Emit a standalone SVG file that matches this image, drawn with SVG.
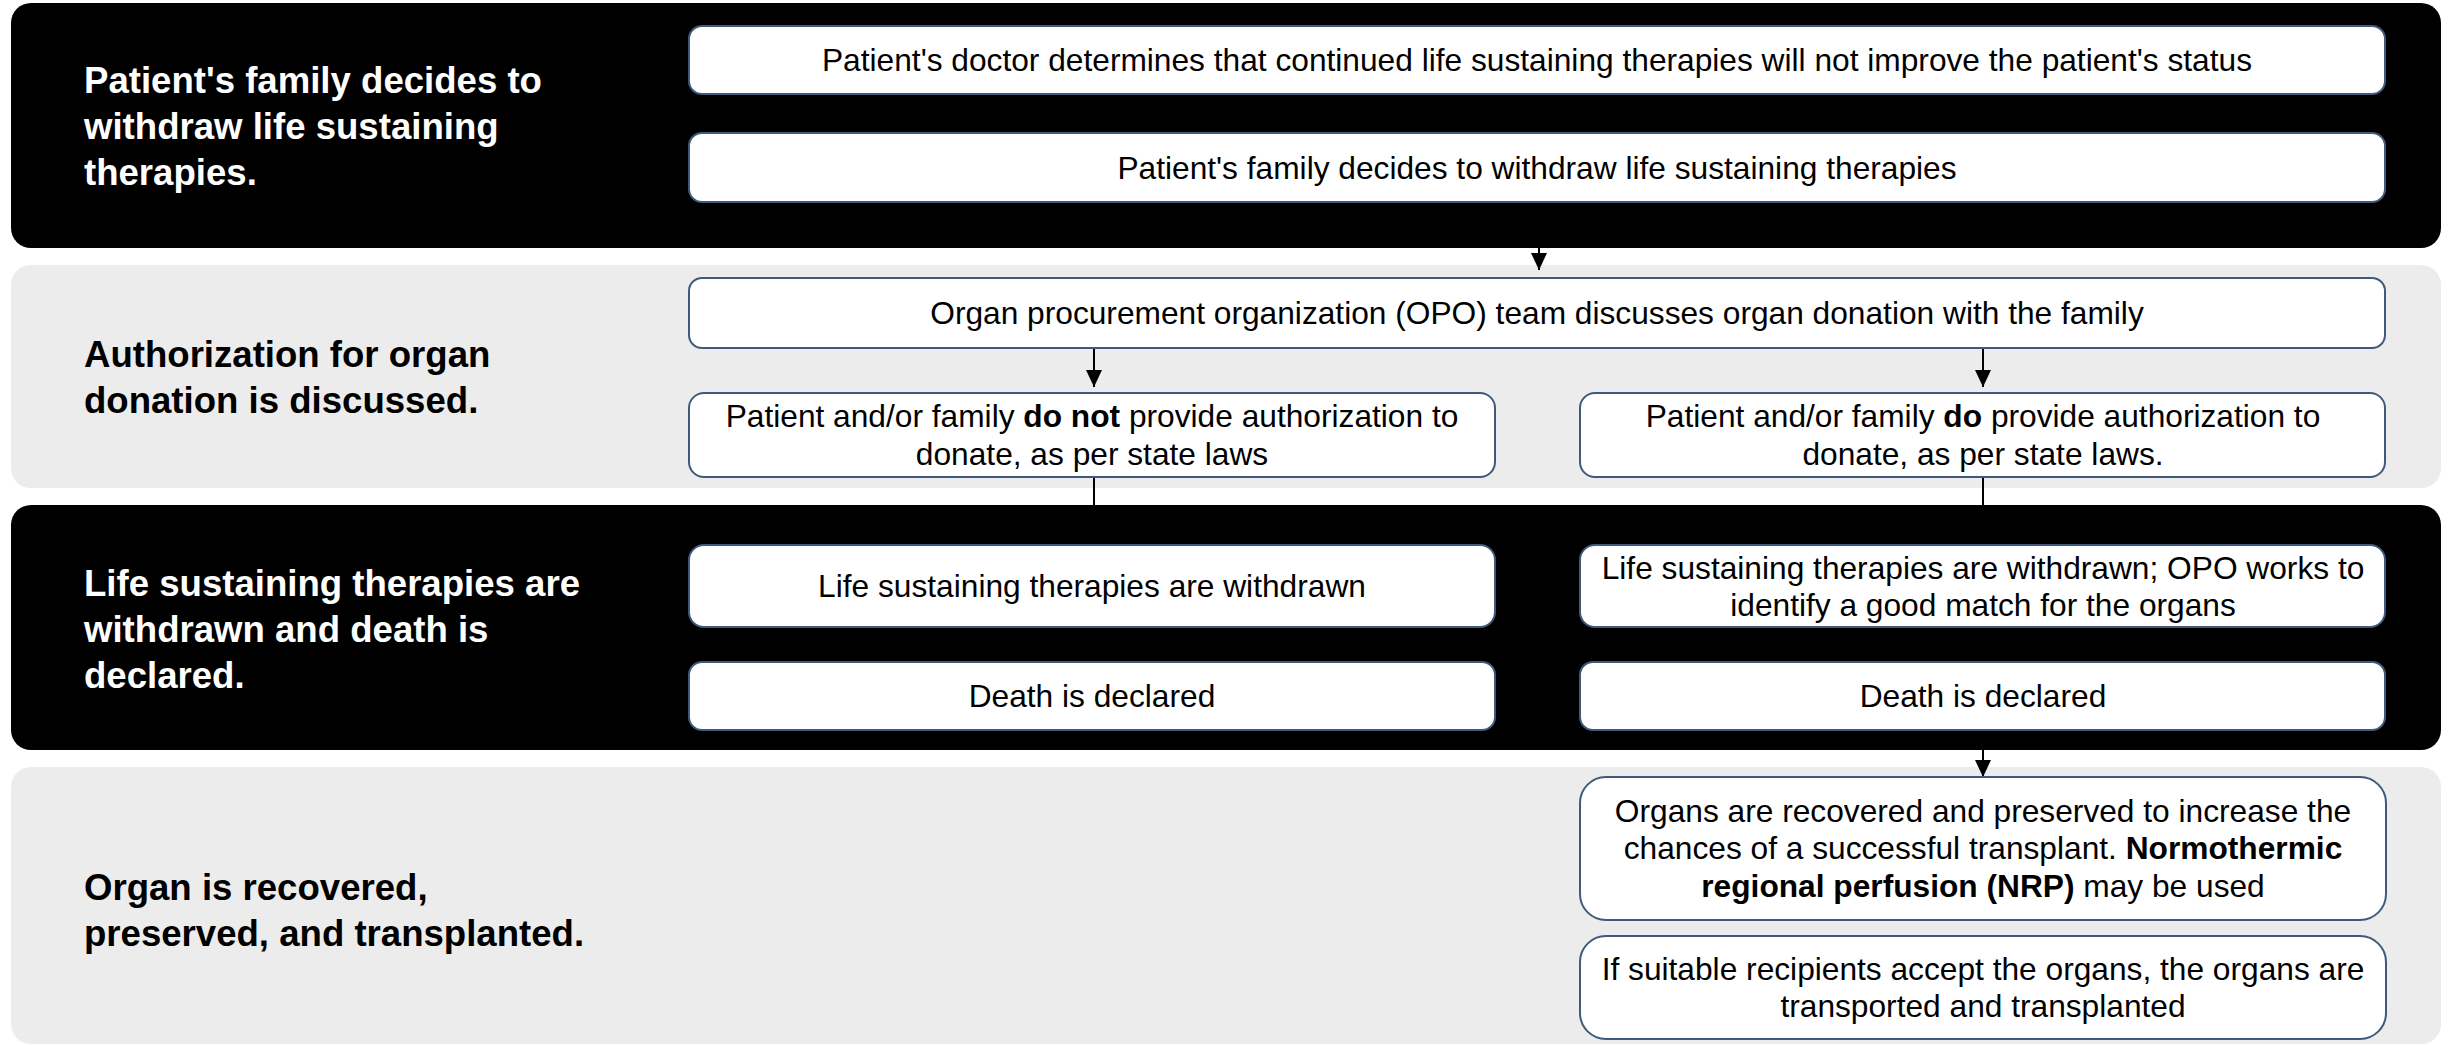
<svg xmlns="http://www.w3.org/2000/svg" width="2448" height="1045" viewBox="0 0 2448 1045">
<defs>
<marker id="arr" markerUnits="userSpaceOnUse" markerWidth="17" markerHeight="16" refX="17" refY="8" orient="auto" viewBox="0 0 17 16">
<path d="M0,0 L17,8 L0,16 Z" fill="#000"/>
</marker>
<style>
.bandD{fill:#000}
.bandL{fill:#ececec}
.lblW{font-family:"Liberation Sans",Arial,sans-serif;font-weight:bold;font-size:36.6px;fill:#fff}
.lblB{font-family:"Liberation Sans",Arial,sans-serif;font-weight:bold;font-size:36.6px;fill:#000}
.box{fill:#fff;stroke:#3f5a7d;stroke-width:2}
.t{font-family:"Liberation Sans",Arial,sans-serif;font-size:31.7px;fill:#000;text-anchor:middle}
.b{font-weight:bold}
.c{stroke:#000;stroke-width:2;fill:none}
</style>
</defs>
<rect width="2448" height="1045" fill="#fff"/>

<g id="band1">
<rect class="bandD" x="11" y="3" width="2430" height="245" rx="20"/>
<text class="lblW" x="84"><tspan x="84" y="93">Patient's family decides to</tspan><tspan x="84" y="139">withdraw life sustaining</tspan><tspan x="84" y="185">therapies.</tspan></text>
</g>
<g id="band2">
<rect class="bandL" x="11" y="265" width="2430" height="223" rx="20"/>
<text class="lblB" x="84"><tspan x="84" y="367">Authorization for organ</tspan><tspan x="84" y="413">donation is discussed.</tspan></text>
</g>
<g id="band3">
<rect class="bandD" x="11" y="505" width="2430" height="245" rx="20"/>
<text class="lblW" x="84"><tspan x="84" y="596">Life sustaining therapies are</tspan><tspan x="84" y="642">withdrawn and death is</tspan><tspan x="84" y="688">declared.</tspan></text>
</g>
<g id="band4">
<rect class="bandL" x="11" y="767" width="2430" height="277" rx="20"/>
<text class="lblB" x="84"><tspan x="84" y="900">Organ is recovered,</tspan><tspan x="84" y="946">preserved, and transplanted.</tspan></text>
</g>

<g id="connectors">
<line class="c" x1="1539" y1="94" x2="1539" y2="133"/>
<line class="c" x1="1539" y1="202" x2="1539" y2="270" marker-end="url(#arr)"/>
<line class="c" x1="1094" y1="348" x2="1094" y2="387" marker-end="url(#arr)"/>
<line class="c" x1="1983" y1="348" x2="1983" y2="387" marker-end="url(#arr)"/>
<line class="c" x1="1094" y1="477" x2="1094" y2="545"/>
<line class="c" x1="1983" y1="477" x2="1983" y2="545"/>
<line class="c" x1="1094" y1="627" x2="1094" y2="662"/>
<line class="c" x1="1983" y1="627" x2="1983" y2="662"/>
<line class="c" x1="1983" y1="730" x2="1983" y2="777" marker-end="url(#arr)"/>
</g>

<g id="n1">
<rect class="box" x="689" y="26" width="1696" height="68" rx="13"/>
<text class="t" x="1537" y="71">Patient's doctor determines that continued life sustaining therapies will not improve the patient's status</text>
</g>
<g id="n2">
<rect class="box" x="689" y="133" width="1696" height="69" rx="13"/>
<text class="t" x="1537" y="179">Patient's family decides to withdraw life sustaining therapies</text>
</g>
<g id="n3">
<rect class="box" x="689" y="278" width="1696" height="70" rx="13"/>
<text class="t" x="1537" y="324">Organ procurement organization (OPO) team discusses organ donation with the family</text>
</g>
<g id="n4">
<rect class="box" x="689" y="393" width="806" height="84" rx="15"/>
<text class="t"><tspan x="1092" y="427">Patient and/or family <tspan class="b">do not</tspan> provide authorization to</tspan><tspan x="1092" y="465">donate, as per state laws</tspan></text>
</g>
<g id="n5">
<rect class="box" x="1580" y="393" width="805" height="84" rx="15"/>
<text class="t"><tspan x="1983" y="427">Patient and/or family <tspan class="b">do</tspan> provide authorization to</tspan><tspan x="1983" y="465">donate, as per state laws.</tspan></text>
</g>
<g id="n6">
<rect class="box" x="689" y="545" width="806" height="82" rx="15"/>
<text class="t" x="1092" y="597">Life sustaining therapies are withdrawn</text>
</g>
<g id="n7">
<rect class="box" x="1580" y="545" width="805" height="82" rx="15"/>
<text class="t"><tspan x="1983" y="579">Life sustaining therapies are withdrawn; OPO works to</tspan><tspan x="1983" y="616">identify a good match for the organs</tspan></text>
</g>
<g id="n8">
<rect class="box" x="689" y="662" width="806" height="68" rx="13"/>
<text class="t" x="1092" y="707">Death is declared</text>
</g>
<g id="n9">
<rect class="box" x="1580" y="662" width="805" height="68" rx="13"/>
<text class="t" x="1983" y="707">Death is declared</text>
</g>
<g id="n10">
<rect class="box" x="1580" y="777" width="806" height="143" rx="26"/>
<text class="t"><tspan x="1983" y="822">Organs are recovered and preserved to increase the</tspan><tspan x="1983" y="859">chances of a successful transplant. <tspan class="b">Normothermic</tspan></tspan><tspan x="1983" y="897"><tspan class="b">regional perfusion (NRP)</tspan> may be used</tspan></text>
</g>
<g id="n11">
<rect class="box" x="1580" y="936" width="806" height="103" rx="26"/>
<text class="t"><tspan x="1983" y="980">If suitable recipients accept the organs, the organs are</tspan><tspan x="1983" y="1017">transported and transplanted</tspan></text>
</g>
</svg>
